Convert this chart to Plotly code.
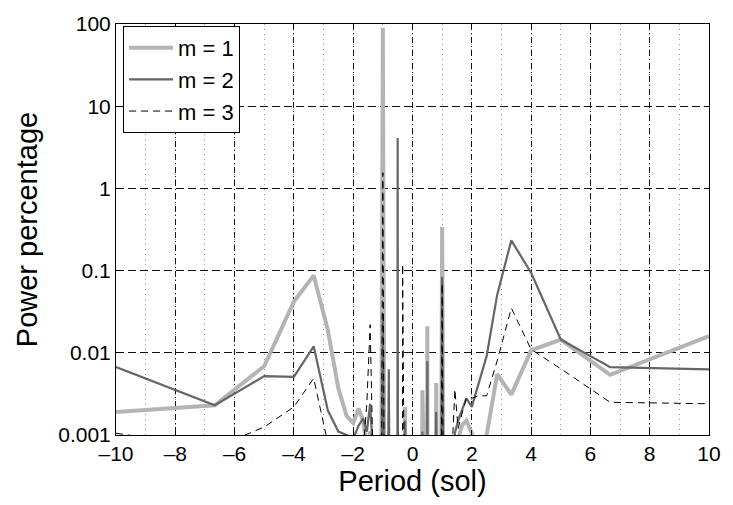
import plotly.graph_objects as go

# Period (sol) sample positions
periods = [-10, -6.667, -5, -4, -3.333, -2.857, -2.5, -2.222, -2, -1.818, -1.667,
           -1.538, -1.429, -1.333, -1.25, -1.176, -1.111, -1.053, -1, -0.952, -0.909,
           -0.833, -0.8, -0.769, -0.667, -0.513, -0.5, -0.488, -0.4, -0.339, -0.333,
           -0.328, -0.256, -0.25, -0.244, -0.1, 0.1, 0.328, 0.333, 0.339, 0.488, 0.5,
           0.513, 0.769, 0.8, 0.833, 0.952, 1, 1.053, 1.111, 1.176, 1.25, 1.333, 1.429,
           1.538, 1.667, 1.818, 2, 2.222, 2.5, 2.857, 3.333, 4, 5, 6.667, 10]

power_m1 = [0.0019, 0.0023, 0.0069, 0.042, 0.087, 0.019, 0.0037, 0.0017, 0.0014, 0.0021, 0.0015,
            0.0007, 0.0011, 0.0005, 0.0003, 0.0004, 0.0003, 0.0002, 90, 0.0002, 0.0001,
            0.0001, 0.0002, 0.0001, 0.0001, 1e-5, 0.0003, 1e-5, 1e-5, 1e-5, 0.0002,
            1e-5, 1e-5, 0.0022, 1e-5, 1e-5, 1e-5, 1e-5, 0.0035, 1e-5, 1e-5, 0.021,
            1e-5, 1e-5, 0.0043, 1e-5, 1e-5, 0.34, 1e-5, 0.0001, 0.0002, 0.0002, 0.0003, 0.0004,
            0.0009, 0.0013, 0.0015, 0.00105, 0.0006, 0.001, 0.0055, 0.0031, 0.0107, 0.0145, 0.0054, 0.016]

power_m2 = [0.0067, 0.0023, 0.0052, 0.0051, 0.012, 0.002, 0.0011, 0.001, 0.0009, 0.0013, 0.0016,
            0.0011, 0.0024, 0.0006, 0.0004, 0.0003, 0.0002, 0.0001, 0.03, 0.0001, 0.0001,
            0.0001, 0.0063, 0.0001, 0.0001, 1e-5, 4.1, 1e-5, 1e-5, 1e-5, 0.0003,
            1e-5, 1e-5, 0.0015, 1e-5, 1e-5, 1e-5, 1e-5, 0.0011, 1e-5, 1e-5, 0.0079,
            1e-5, 1e-5, 0.0019, 1e-5, 1e-5, 0.084, 1e-5, 0.0001, 0.0001, 0.0001, 0.0002, 0.00105,
            0.0015, 0.002, 0.0028, 0.0022, 0.0042, 0.0091, 0.051, 0.233, 0.094, 0.0145, 0.0067, 0.0063]

power_m3 = [0.00105, 0.0007, 0.00125, 0.0022, 0.0049, 0.0008, 0.0003, 0.0002, 0.0002, 0.0003, 0.0006,
            0.0025, 0.022, 0.0005, 0.0003, 0.0002, 0.0002, 0.0001, 1.55, 0.0001, 0.0001,
            0.0001, 0.0001, 0.0001, 0.0001, 1e-5, 0.0003, 1e-5, 1e-5, 1e-5, 0.12,
            1e-5, 1e-5, 0.0001, 1e-5, 1e-5, 1e-5, 1e-5, 0.0001, 1e-5, 1e-5, 0.0009,
            1e-5, 1e-5, 0.0001, 1e-5, 1e-5, 0.07, 1e-5, 0.0001, 0.0001, 0.0002, 0.0006, 0.0036,
            0.0012, 0.0018, 0.0028, 0.0028, 0.003, 0.003, 0.008, 0.035, 0.011, 0.0064, 0.0025, 0.0024]

series_names = ["m = 1", "m = 2", "m = 3"]

x_ticks = [-10, -8, -6, -4, -2, 0, 2, 4, 6, 8, 10]
x_ticktext = ["–10", "–8", "–6", "–4", "–2", "0", "2", "4", "6", "8", "10"]
y_ticks = [0.001, 0.01, 0.1, 1, 10, 100]
y_ticktext = ["0.001", "0.01", "0.1", "1", "10", "100"]

FONT = "Liberation Sans, Arial, Helvetica, sans-serif"

fig = go.Figure()
fig.add_trace(go.Scatter(x=periods, y=power_m1, mode="lines", name=series_names[0],
                         line=dict(color="#b4b4b4", width=4)))
fig.add_trace(go.Scatter(x=periods, y=power_m2, mode="lines", name=series_names[1],
                         line=dict(color="#666666", width=2.2)))
fig.add_trace(go.Scatter(x=periods, y=power_m3, mode="lines", name=series_names[2],
                         line=dict(color="#000000", width=1, dash="7px,5px")))

fig.update_layout(
    width=733, height=505,
    margin=dict(l=116, r=19, t=17, b=70),
    paper_bgcolor="white", plot_bgcolor="white",
    font=dict(family=FONT, color="black", size=21),
    showlegend=True,
    hovermode=False,
    legend=dict(x=0.012, y=0.995, xanchor="left", yanchor="top",
                bgcolor="white", bordercolor="black", borderwidth=1,
                font=dict(family=FONT, size=22), tracegroupgap=0,
                itemwidth=44),
    xaxis=dict(
        range=[-10, 10], tickvals=x_ticks, ticktext=x_ticktext,
        showline=True, linecolor="black", linewidth=1, mirror="ticks",
        ticks="inside", ticklen=5, tickcolor="black",
        showgrid=True, gridcolor="#111111", gridwidth=1, griddash="6px,3px,1px,3px",
        minor=dict(dtick=1, tick0=0, showgrid=True, gridcolor="#9a9a9a", gridwidth=1,
                   griddash="1px,4px", ticks=""),
        zeroline=False,
        tickfont=dict(size=21),
        title=dict(text="Period (sol)", font=dict(size=29), standoff=2),
    ),
    yaxis=dict(
        type="log", range=[-3, 2], tickvals=y_ticks, ticktext=y_ticktext,
        showline=True, linecolor="black", linewidth=1, mirror="ticks",
        ticks="inside", ticklen=5, tickcolor="black",
        showgrid=True, gridcolor="#111111", gridwidth=1, griddash="8px,4px",
        zeroline=False,
        tickfont=dict(size=21),
        title=dict(text="Power percentage", font=dict(size=29), standoff=12),
    ),
)

fig.write_html("out.html", config={"displayModeBar": False})
